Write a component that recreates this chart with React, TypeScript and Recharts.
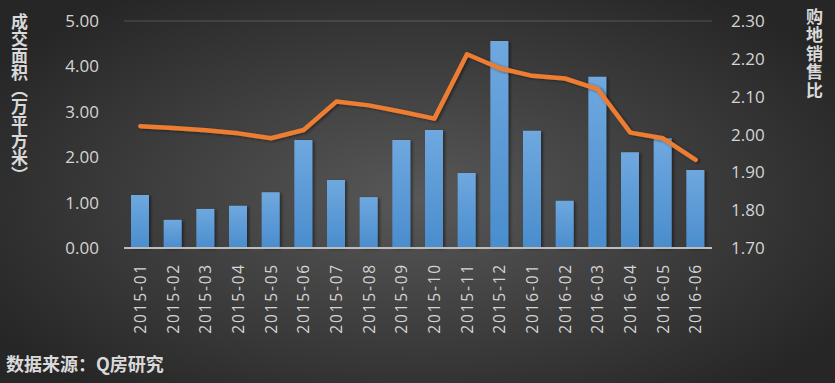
import React from 'react';
import { ComposedChart, Bar, Line, XAxis, YAxis, CartesianGrid } from 'recharts';

const months = ['2015-01','2015-02','2015-03','2015-04','2015-05','2015-06','2015-07','2015-08','2015-09','2015-10','2015-11','2015-12','2016-01','2016-02','2016-03','2016-04','2016-05','2016-06'];
const area = [1.17, 0.62, 0.86, 0.93, 1.23, 2.38, 1.50, 1.12, 2.38, 2.60, 1.65, 4.56, 2.58, 1.04, 3.77, 2.11, 2.42, 1.72];
const ratio = [2.022, 2.017, 2.011, 2.003, 1.990, 2.012, 2.087, 2.077, 2.060, 2.042, 2.212, 2.175, 2.155, 2.148, 2.120, 2.005, 1.990, 1.933];
const leftTicks = [0, 1, 2, 3, 4, 5];
const rightTicks = [1.7, 1.8, 1.9, 2.0, 2.1, 2.2, 2.3];
const leftTitle = '成交面积（万平方米）';
const rightTitle = '购地销售比';
const source = '数据来源：Q房研究';

const data = months.map((m, i) => ({ month: m, area: area[i], ratio: ratio[i] }));

const numFont = '"Open Sans", "Liberation Sans", sans-serif';
const cjkFont = '"Noto Sans CJK SC", sans-serif';

const XTick = (props: any) => {
  const { x, y, payload } = props;
  return (
    <text
      x={0}
      y={0}
      transform={`translate(${x + 5.5},${y}) rotate(-90)`}
      textAnchor="end"
      fill="#d4d4d4"
      fontSize={15.5}
      fontFamily={numFont}
      letterSpacing={1.8}
    >
      {payload.value}
    </text>
  );
};

export default function App() {
  return (
    <div
      style={{
        position: 'absolute',
        left: 0,
        top: 0,
        width: 835,
        height: 383,
        background: 'radial-gradient(ellipse 60% 65% at 50% 52%, #585858 0%, #3a3a3a 60%, #262626 100%)',
        overflow: 'hidden',
      }}
    >
      <ComposedChart
        width={835}
        height={383}
        data={data}
        margin={{ top: 21, right: 0, bottom: 0, left: 0 }}
      >
        <defs>
          <linearGradient id="barGrad" x1="0" y1="0" x2="0" y2="1">
            <stop offset="0%" stopColor="#6fa8df" />
            <stop offset="100%" stopColor="#4a8dcd" />
          </linearGradient>
          <filter id="shadow" x="-20%" y="-20%" width="160%" height="160%">
            <feDropShadow dx="2" dy="1" stdDeviation="1.5" floodColor="#000" floodOpacity="0.45" />
          </filter>
        </defs>
        <CartesianGrid vertical={false} stroke="#ffffff" strokeOpacity={0.12} strokeWidth={1.5} />
        <XAxis
          dataKey="month"
          interval={0}
          tick={<XTick />}
          tickLine={false}
          axisLine={{ stroke: '#bdbdbd', strokeWidth: 2 }}
          tickSize={0}
          tickMargin={15}
          height={135}
        />
        <YAxis
          yAxisId="left"
          orientation="left"
          domain={[0, 5]}
          ticks={leftTicks}
          interval={0}
          tickFormatter={(v: number) => v.toFixed(2)}
          width={124}
          axisLine={false}
          tickLine={false}
          tickSize={0}
          tickMargin={25}
          tick={{ fill: '#d4d4d4', fontSize: 17, fontFamily: numFont }}
        />
        <YAxis
          yAxisId="right"
          orientation="right"
          domain={[1.7, 2.3]}
          ticks={rightTicks}
          interval={0}
          tickFormatter={(v: number) => v.toFixed(2)}
          width={123}
          axisLine={false}
          tickLine={false}
          tickSize={0}
          tickMargin={19}
          tick={{ fill: '#d4d4d4', fontSize: 17, fontFamily: numFont, textAnchor: 'start' }}
        />
        <Bar
          yAxisId="left"
          dataKey="area"
          fill="url(#barGrad)"
          barSize={18}
          filter="url(#shadow)"
          isAnimationActive={false}
        />
        <Line
          yAxisId="right"
          dataKey="ratio"
          stroke="#ed7d31"
          strokeWidth={4.5}
          dot={false}
          activeDot={false}
          strokeLinejoin="round"
          strokeLinecap="round"
          filter="url(#shadow)"
          isAnimationActive={false}
        />
      </ComposedChart>
      <div
        style={{
          position: 'absolute',
          left: 11,
          top: 13,
          writingMode: 'vertical-rl',
          textOrientation: 'upright',
          fontFamily: cjkFont,
          fontWeight: 700,
          fontSize: 17,
          lineHeight: '17px',
          color: '#d9d9d9',
        }}
      >
        {leftTitle}
      </div>
      <div
        style={{
          position: 'absolute',
          left: 806,
          top: 8,
          writingMode: 'vertical-rl',
          textOrientation: 'upright',
          fontFamily: cjkFont,
          fontWeight: 700,
          fontSize: 17,
          lineHeight: '17px',
          letterSpacing: '1.4px',
          color: '#d9d9d9',
        }}
      >
        {rightTitle}
      </div>
      <div
        style={{
          position: 'absolute',
          left: 6,
          top: 352,
          fontFamily: cjkFont,
          fontWeight: 700,
          fontSize: 18,
          lineHeight: '22px',
          color: '#d9d9d9',
          whiteSpace: 'nowrap',
        }}
      >
        {source}
      </div>
    </div>
  );
}
